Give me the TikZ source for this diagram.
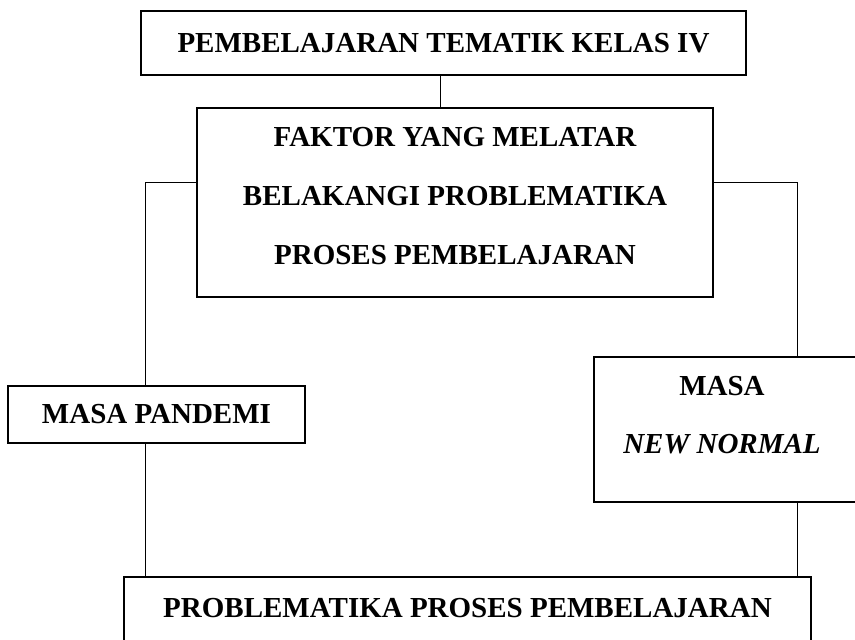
\documentclass[tikz,border=0pt]{standalone}
\usepackage{fontspec}
\setmainfont{Liberation Serif}
\begin{document}
\begin{tikzpicture}[x=1pt,y=1pt,
  boxst/.style={draw=black, line width=1.8pt, fill=white, inner sep=0pt, outer sep=0pt},
  txt/.style={inner sep=0pt, font=\bfseries\fontsize{29}{59}\selectfont, align=center},
  conn/.style={draw=black, line width=0.9pt}]
\useasboundingbox (0,0) rectangle (855,640);
\clip (0,0) rectangle (855,640);
% boxes
\node[boxst, minimum width=605, minimum height=64] (top) at (443.5,597) {};
\node[txt] (toptxt) at (443.5,597) {PEMBELAJARAN TEMATIK KELAS IV};
\node[boxst, minimum width=516, minimum height=189] (faktor) at (455,437.5) {};
\node[txt] (faktortxt) at (455,444) {FAKTOR YANG MELATAR\\BELAKANGI PROBLEMATIKA\\PROSES PEMBELAJARAN};
\node[boxst, minimum width=297, minimum height=57] (pandemi) at (156.5,225.5) {};
\node[txt] (pandemitxt) at (156.5,225.5) {MASA PANDEMI};
\node[boxst, minimum width=266, minimum height=145] (newnormal) at (727,210.5) {};
\node[txt, font=\bfseries\fontsize{29}{58}\selectfont] (newnormaltxt) at (722,225) {MASA\\\textit{NEW NORMAL}};
\node[boxst, minimum width=687, minimum height=104] (problem) at (467.5,11) {};
\node[txt] (problemtxt) at (467.5,32) {PROBLEMATIKA PROSES PEMBELAJARAN};
% connector coordinates
\coordinate (cx) at (440,0);
\coordinate (lx) at (145,458);
\coordinate (rx) at (797,458);
% connectors
\draw[conn] (top.south -| cx) -- (faktor.north -| cx);
\draw[conn] (faktor.west |- lx) -- (lx) -- (lx |- pandemi.north);
\draw[conn] (lx |- pandemi.south) -- (lx |- problem.north);
\draw[conn] (faktor.east |- rx) -- (rx) -- (rx |- newnormal.north);
\draw[conn] (rx |- newnormal.south) -- (rx |- problem.north);
\end{tikzpicture}
\end{document}
